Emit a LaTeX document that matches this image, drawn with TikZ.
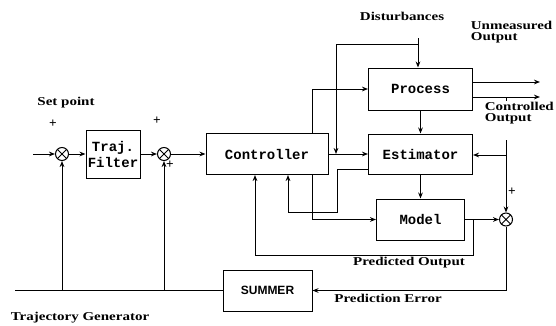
\documentclass[tikz,border=0pt]{standalone}
\usepackage{fontspec}
\setmainfont{Liberation Serif}
\setsansfont{Liberation Sans}
\setmonofont{Liberation Mono}
\usetikzlibrary{arrows.meta}
\tikzset{every picture/.style={line width=0.75pt}}

\begin{document}
\begin{tikzpicture}[x=0.75pt,y=0.75pt,yscale=-1,xscale=1,
  >={Stealth[length=4.5pt,width=3.5pt]},
  blk/.style={draw, inner sep=0pt, align=center, font=\fontsize{10.5}{12}\selectfont\ttfamily\bfseries},
  sumj/.style={draw, circle, minimum size=9.75pt, inner sep=0pt,
    path picture={\draw (path picture bounding box.center) +(45:4.9pt) -- +(225:4.9pt) +(135:4.9pt) -- +(-45:4.9pt);}},
  lbl/.style={inner sep=0.75pt, font=\fontsize{9}{8}\selectfont\bfseries, xscale=1.25},
  sgn/.style={inner sep=0pt, font=\fontsize{10}{10}\selectfont\bfseries}]
\useasboundingbox (0,0) rectangle (556,325);

%Shape: Blocks
\node[blk, minimum width=40.5pt, minimum height=36pt] (filt) at (113,154) {Traj.\\Filter};
\node[blk, minimum width=91.5pt, minimum height=30.75pt] (ctrl) at (267,154) {Controller};
\node[blk, minimum width=78pt, minimum height=31.5pt] (proc) at (420.5,89) {Process};
\node[blk, minimum width=78pt, minimum height=30pt] (est) at (420.5,154) {Estimator};
\node[blk, minimum width=66pt, minimum height=30.75pt] (mod) at (420.5,219.5) {Model};
\node[blk, minimum width=66.75pt, minimum height=30.75pt, font=\fontsize{9}{10}\selectfont\sffamily\bfseries] (summ) at (267.5,290.5) {SUMMER};

%Shape: Summing junctions
\node[sumj] (sj1) at (62,154) {};
\node[sumj] (sj2) at (164,154) {};
\node[sumj] (sj3) at (506,219.5) {};

%Free ends and taps
\coordinate (in) at (33,154);
\coordinate (tg) at (15,290.5);
\coordinate (dist) at (418,38);
\coordinate (dbr) at (418,44);
\coordinate (djoin) at (336,154);
\coordinate (cx) at (312,154);
\coordinate (efb) at (337,169);
\coordinate (fbx) at (288,212);
\coordinate (uo) at (540,82);
\coordinate (co) at (540,97);
\coordinate (ctap) at (506,97);
\coordinate (cbot) at (506,140);
\coordinate (etap) at (506,155);
\coordinate (ptap) at (473,219.5);
\coordinate (pfx) at (255,255);

% Text Node
\node[lbl] (spl) at (66,103) {Set point};
% Text Node
\node[lbl] (tgl) at (80,318) {Trajectory Generator};
% Text Node
\node[lbl] (dl) at (402,16) {Disturbances};
% Text Node
\node[lbl, anchor=west, align=left] (ul) at (469,32) {Unmeasured\\Output};
% Text Node
\node[lbl, anchor=west, align=left] (cl) at (483,113) {Controlled\\Output};
% Text Node
\node[lbl] (pol) at (409,263) {Predicted Output};
% Text Node
\node[lbl] (pel) at (388,298) {Prediction Error};
% Signs
\node[sgn] (s1) at (53,124) {+};
\node[sgn] (s2) at (157,121) {+};
\node[sgn] (s3) at (170,165) {+};
\node[sgn] (s4) at (512,192) {+};

%Straight Lines: reference path
\draw[->] (in) -- (sj1);
\draw[->] (sj1) -- (filt);
\draw[->] (filt) -- (sj2);
\draw[->] (sj2) -- (ctrl);
\draw (summ) -- (tg);
\draw[->] (sj1 |- tg) -- (sj1);
\draw[->] (sj2 |- tg) -- (sj2);
%Straight Lines: disturbances
\draw[->] (dist) -- (dist |- proc.north);
\draw[->] (dbr) -| (djoin);
%Straight Lines: controller outputs
\draw[->] (cx |- ctrl.north) |- (proc.west);
\draw[->] (ctrl.east) -- (est.west |- ctrl.east);
\draw[->] (cx |- ctrl.south) |- (mod.west);
%Straight Lines: estimator
\draw[->] (est.west |- efb) -- (efb) |- (fbx) -- (fbx |- ctrl.south);
\draw[->] (proc.south) -- (est.north);
\draw[->] (est.south) -- (mod.north);
%Straight Lines: process outputs
\draw[->] (proc.east |- uo) -- (uo);
\draw[->] (proc.east |- co) -- (co);
\draw (ctap) -- (ctap |- cl.north);
\draw[->] (cbot) -- (sj3);
\draw[->] (etap) -- (est.east |- etap);
%Straight Lines: model and error
\draw[->] (mod) -- (sj3);
\draw[->] (ptap) |- (pfx) -- (pfx |- ctrl.south);
\draw[->] (sj3) |- (summ);

\end{tikzpicture}
\end{document}
